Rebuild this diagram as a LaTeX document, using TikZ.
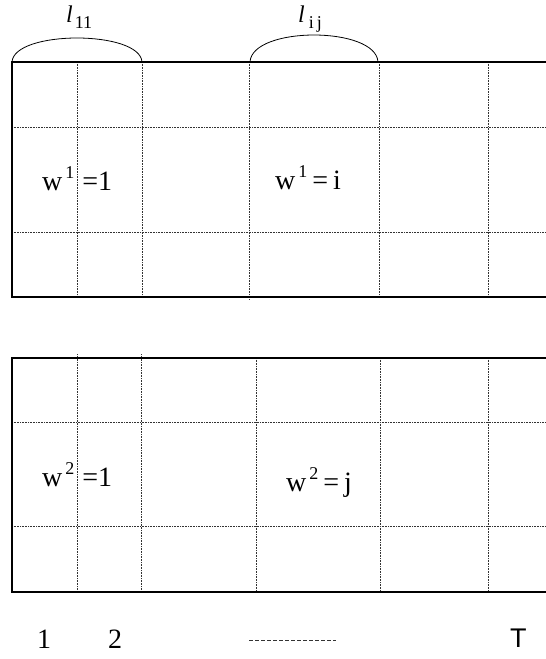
\documentclass[tikz,border=0pt]{standalone}
\usepackage{fontspec}
\setmainfont{Liberation Serif}
\newfontfamily\sansT{Liberation Sans}
\begin{document}
\begin{tikzpicture}[x=1pt,y=-1pt,
  frame/.style={line width=2.4pt,line join=miter},
  grid/.style={line width=0.6pt,densely dotted,black!80},
  brace/.style={line width=0.8pt},
  lab/.style={inner sep=0pt,anchor=base west,font=\fontsize{28}{32}\selectfont},
  sublab/.style={inner sep=0pt,anchor=base west}]
\useasboundingbox (0,0) rectangle (546,659);
% top block
\foreach \x/\yb in {77/297,142/297,249/300,379/297,488/297}
  \draw[grid] (\x,62) -- (\x,\yb);
\draw[grid] (12,127) -- (546,127);
\draw[grid] (12,232) -- (546,232);
\draw[frame] (546,62) -- (12,62) -- (12,297) -- (546,297);
% bottom block
\foreach \x/\ya in {77/354,141/354,256/358,380/358,488/358}
  \draw[grid] (\x,\ya) -- (\x,592);
\draw[grid] (12,422) -- (546,422);
\draw[grid] (12,526) -- (546,526);
\draw[frame] (546,358) -- (12,358) -- (12,592) -- (546,592);
% arcs
\coordinate (a1) at (12,62); \coordinate (a2) at (142,62);
\coordinate (b1) at (250,62); \coordinate (b2) at (378,62);
\draw[brace] (a1) .. controls (14,30) and (140,30) .. (a2);
\draw[brace] (b1) .. controls (252,26) and (376,26) .. (b2);
% labels
\node[sublab] (l11) at (66,22) {\fontsize{24}{26}\selectfont\textit{l}\hspace{2pt}\raisebox{-6pt}{\fontsize{18}{20}\selectfont 11}};
\node[sublab] (lij) at (298,22) {\fontsize{24}{26}\selectfont\textit{l}\hspace{4pt}\raisebox{-6pt}{\fontsize{18}{20}\selectfont i\,j}};
\node[lab] (w11) at (42,190) {w\hspace{3pt}\raisebox{12pt}{\fontsize{18}{20}\selectfont 1}\hspace{8pt}=1};
\node[lab] (w1i) at (275,189) {w\hspace{3pt}\raisebox{12pt}{\fontsize{18}{20}\selectfont 1}\hspace{5pt}=\hspace{5pt}i};
\node[lab] (w21) at (42,486) {w\hspace{3pt}\raisebox{12pt}{\fontsize{18}{20}\selectfont 2}\hspace{8pt}=1};
\node[lab] (w2j) at (286,491) {w\hspace{3pt}\raisebox{12pt}{\fontsize{18}{20}\selectfont 2}\hspace{5pt}=\hspace{5pt}j};
\node[lab] (n1) at (37,648) {1};
\node[lab] (n2) at (108,648) {2};
\coordinate (d1) at (249,640); \coordinate (d2) at (336,640);
\draw[line width=0.6pt,dash pattern=on 4pt off 2pt,black!80] (d1) -- (d2);
\node[lab,font=\fontsize{27}{30}\sansT] (nT) at (510,647) {T};
\end{tikzpicture}
\end{document}
